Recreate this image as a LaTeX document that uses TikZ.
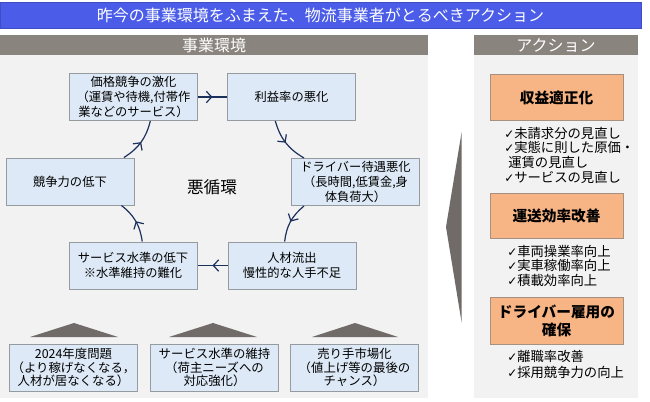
\documentclass[tikz,border=0pt]{standalone}
\usepackage{fontspec}
\setmainfont{Noto Sans CJK JP}
\newfontfamily\chkfont{DejaVu Sans}
\usepackage{tikz}
\usetikzlibrary{arrows.meta,decorations.markings}

\definecolor{titleblue}{RGB}{74,92,232}
\definecolor{hdrgray}{RGB}{138,132,127}
\definecolor{panelgray}{RGB}{242,242,242}
\definecolor{boxblue}{RGB}{221,233,246}
\definecolor{boxline}{RGB}{150,155,160}
\definecolor{actorange}{RGB}{247,180,132}
\definecolor{actline}{RGB}{165,145,130}
\definecolor{navy}{RGB}{28,48,92}
\definecolor{tridark}{RGB}{112,106,104}

\newcommand{\chk}{{\chkfont\fontsize{9}{10}\selectfont ✓}}

\tikzset{
  cyclebox/.style={draw=boxline, fill=boxblue, line width=0.75pt, minimum width=96pt, minimum height=35.25pt, inner sep=1pt, align=center, font=\fontsize{9.2}{11}\selectfont},
  basebox/.style={cyclebox, font=\fontsize{9.3}{10.2}\selectfont},
  actbox/.style={draw=actline, fill=actorange, line width=0.75pt, minimum width=99.75pt, minimum height=35pt, inner sep=1pt, align=center, font=\fontsize{11}{13.5}\selectfont\bfseries},
  header/.style={fill=hdrgray, text=white, inner sep=0pt, font=\fontsize{12}{14}\selectfont},
  checklist/.style={anchor=north west, align=left, inner sep=0pt, font=\fontsize{10}{11}\selectfont},
  cycarrow/.style={draw=navy, line width=0.9pt, postaction={decorate}, decoration={markings, mark=at position 0.5 with {\arrow{Straight Barb[length=4pt,width=8.5pt]}}}},
}

\begin{document}
\begin{tikzpicture}[x=0.75pt,y=0.75pt,yscale=-1,xscale=1]
  \useasboundingbox (0,0) rectangle (650,401);

  %Title bar
  \draw [draw=titleblue!85!black, fill=titleblue] (0,2) rectangle (641,28);
  \node [text=white, font=\fontsize{12}{14}\selectfont] (title) at (320.5,15) {昨今の事業環境をふまえた、物流事業者がとるべきアクション};

  %Panels
  \fill [panelgray] (0,55) rectangle (428,398);
  \fill [panelgray] (474,55) rectangle (638,398);
  \fill [header] (0,35) rectangle (428,55);
  \fill [header] (474,35) rectangle (638,55);
  \node [header, fill=none] (envhead) at (214,45) {事業環境};
  \node [header, fill=none] (acthead) at (556,45) {アクション};

  %Big arrow to actions
  \fill [tridark] (461.7,131.7) -- (446,227) -- (461.7,323) -- cycle;

  % Cycle nodes
  \node [cyclebox] (price) at (133.5,97) {価格競争の激化\\（運賃や待機,付帯作\\業などのサービス）};
  \node [cyclebox] (profit) at (291.5,97) {利益率の悪化};
  \node [cyclebox] (driver) at (355.5,182) {ドライバー待遇悪化\\（長時間,低賃金,身\\体負荷大）};
  \node [cyclebox] (staff) at (292,265.5) {人材流出\\慢性的な人手不足};
  \node [cyclebox] (service) at (133,265.5) {サービス水準の低下\\※水準維持の難化};
  \node [cyclebox] (compet) at (70,181.5) {競争力の低下};
  \node [font=\fontsize{12.5}{14}\selectfont] (vicious) at (212,187) {悪循環};

  % Cycle arrows
  \draw [cycarrow] (price.east) -- (profit.west);
  \draw [cycarrow] (profit.-124) to[bend left=22] (driver.155);
  \draw [cycarrow] (driver.205) to[bend left=22] (staff.107);
  \draw [cycarrow] (staff.west) -- (service.east);
  \draw [cycarrow] (service.69) to[bend left=22] (compet.-25);
  \draw [cycarrow] (compet.24) to[bend left=22] (price.-55);

  % Background factors
  \fill [tridark] (30,337) -- (74,323) -- (118,337) -- cycle;
  \fill [tridark] (169,337) -- (213,323) -- (257,337) -- cycle;
  \fill [tridark] (312,337) -- (355,323) -- (398,337) -- cycle;
  \node [basebox] (y2024) at (73.5,367.5) {2024年度問題\\（より稼げなくなる，\\人材が居なくなる）};
  \node [basebox] (keep) at (214.5,367.5) {サービス水準の維持\\（荷主ニーズへの\\対応強化）};
  \node [basebox] (seller) at (354.5,367.5) {売り手市場化\\（値上げ等の最後の\\チャンス）};

  % Actions
  \node [actbox] (act1) at (556.5,97.5) {収益適正化};
  \node [checklist] (list1) at (504,126.5) {\chk 未請求分の見直し\\\chk 実態に則した原価・\\\hspace{3pt}運賃の見直し\\\chk サービスの見直し};
  \node [actbox, minimum height=33.75pt] (act2) at (556.5,215.5) {運送効率改善};
  \node [checklist] (list2) at (507,244.5) {\chk 車両操業率向上\\\chk 実車稼働率向上\\\chk 積載効率向上};
  \node [actbox] (act3) at (556.5,321) {ドライバー雇用の\\確保};
  \node [checklist] (list3) at (507,349.5) {\chk 離職率改善\\[1pt]\chk 採用競争力の向上};

\end{tikzpicture}
\end{document}
